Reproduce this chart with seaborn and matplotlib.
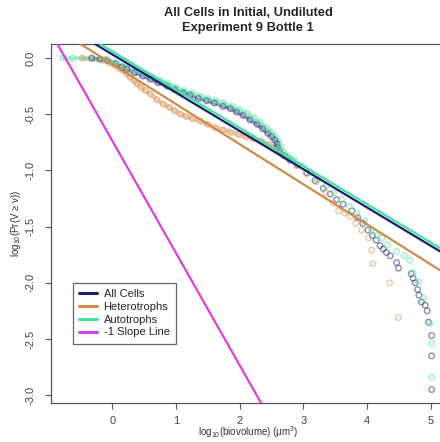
import numpy as np
import pandas as pd
import matplotlib
matplotlib.use("Agg")
import matplotlib.pyplot as plt
import seaborn as sns
from matplotlib.lines import Line2D

# --- data (log10 biovolume, log10 Pr(V >= v)) ---
all_x = [-0.32, -0.19, -0.08, 0.05, 0.15, 0.23, 0.35, 0.48, 0.60, 0.72, 0.86, 0.98,
         1.11, 1.22, 1.35, 1.48, 1.60, 1.74, 1.85, 1.95, 2.05, 2.16, 2.27, 2.36,
         2.44, 2.50, 2.55, 2.58, 2.59, 2.62, 2.70, 2.79, 2.90, 3.05, 3.18, 3.31,
         3.42, 3.52, 3.62, 3.76, 3.85, 3.93, 4.01, 4.08, 4.14, 4.20, 4.25, 4.30,
         4.36, 4.46, 4.49, 4.69, 4.72, 4.75, 4.79, 4.81, 4.85, 4.91, 4.94, 4.96,
         5.01, 5.01, 5.01]
all_y = [0.00, -0.01, -0.02, -0.05, -0.08, -0.10, -0.13, -0.16, -0.19, -0.22, -0.25, -0.28,
         -0.31, -0.33, -0.36, -0.38, -0.40, -0.43, -0.45, -0.48, -0.51, -0.55, -0.59, -0.63,
         -0.67, -0.70, -0.73, -0.76, -0.79, -0.83, -0.87, -0.91, -0.95, -1.02, -1.09, -1.16,
         -1.21, -1.26, -1.30, -1.36, -1.42, -1.47, -1.53, -1.58, -1.62, -1.67, -1.70, -1.73,
         -1.76, -1.82, -1.87, -1.92, -1.96, -2.00, -2.06, -2.11, -2.17, -2.20, -2.25, -2.35,
         -2.47, -2.65, -2.95]

het_x = [-0.47, -0.14, -0.05, 0.02, 0.10, 0.17, 0.23, 0.28, 0.34, 0.39, 0.45, 0.52,
         0.60, 0.70, 0.80, 0.90, 0.98, 1.07, 1.16, 1.26, 1.38, 1.50, 1.62, 1.74,
         1.86, 1.98, 2.10, 2.22, 2.34, 2.46, 2.60, 2.75, 2.90, 3.05, 3.20, 3.35,
         3.47, 3.55, 3.65, 3.73, 3.82, 3.91, 4.02, 4.07, 4.09, 4.35, 4.49]
het_y = [0.00, -0.02, -0.04, -0.06, -0.09, -0.11, -0.14, -0.17, -0.20, -0.23, -0.26, -0.29,
         -0.32, -0.37, -0.41, -0.44, -0.47, -0.50, -0.52, -0.54, -0.56, -0.59, -0.62, -0.64,
         -0.66, -0.68, -0.70, -0.72, -0.74, -0.77, -0.82, -0.89, -0.96, -1.03, -1.10, -1.20,
         -1.29, -1.36, -1.38, -1.41, -1.47, -1.53, -1.60, -1.71, -1.83, -2.00, -2.31]

aut_x = [-0.77, -0.62, -0.10, 0.05, 0.20, 0.35, 0.50, 0.62, 0.75, 0.88, 1.00, 1.12,
         1.25, 1.38, 1.50, 1.62, 1.75, 1.88, 2.00, 2.11, 2.22, 2.32, 2.42, 2.50,
         2.56, 2.61, 2.64, 2.68, 2.76, 2.86, 2.98, 3.10, 3.22, 3.35, 3.47, 3.60,
         3.72, 3.84, 3.96, 4.06, 4.15, 4.23, 4.32, 4.46, 4.58, 4.67, 4.72, 4.80,
         4.88, 4.98, 5.01, 5.01]
aut_y = [0.00, 0.00, -0.01, -0.04, -0.07, -0.11, -0.14, -0.17, -0.20, -0.23, -0.26, -0.29,
         -0.31, -0.34, -0.36, -0.38, -0.40, -0.43, -0.46, -0.49, -0.53, -0.57, -0.62, -0.66,
         -0.70, -0.74, -0.79, -0.83, -0.87, -0.91, -0.96, -1.02, -1.08, -1.14, -1.20, -1.26,
         -1.32, -1.38, -1.45, -1.52, -1.58, -1.60, -1.66, -1.72, -1.76, -1.80, -1.91, -1.99,
         -2.14, -2.36, -2.54, -2.84]

# fitted power-law lines
fit_labels = ["All Cells", "Heterotrophs", "Autotrophs", "-1 Slope Line"]
fit_intercepts = [0.033, -0.053, 0.060, -0.735]
fit_slopes = [-0.341, -0.357, -0.3405, -1.0]

line_colors = ["#1c1f6e", "#d08a4a", "#44e39d", "#e03ee0"]
point_colors = ["#2a2f80", "#dc9860", "#5fe8a8"]
band_widths = [2.6, 3.4, 2.6]

sns.set_style("ticks")
plt.rcParams['font.family'] = ['Liberation Sans', 'DejaVu Sans']
plt.rcParams['mathtext.fontset'] = 'custom'
plt.rcParams['mathtext.rm'] = 'Liberation Sans'
plt.rcParams['mathtext.it'] = 'Liberation Sans:italic'
plt.rcParams['axes.unicode_minus'] = False

fig = plt.figure(figsize=(4.4, 4.42), dpi=100)
ax = fig.add_axes([51 / 440, 39 / 442, (445 - 51) / 440, (403 - 44) / 442])

series = [(all_x, all_y, point_colors[0], 0.55, band_widths[0]),
          (het_x, het_y, point_colors[1], 0.55, band_widths[1]),
          (aut_x, aut_y, point_colors[2], 0.6, band_widths[2])]
for xs, ys, c, a, bw in series:
    df = pd.DataFrame({"x": xs, "y": ys})
    # dense part of the curve reads as a solid band in the reference
    dense = df[df["x"] < 2.9]
    ax.plot(dense["x"], dense["y"], color=c, lw=bw, alpha=a * 0.9,
            solid_capstyle="round", zorder=1)
    sns.scatterplot(data=df, x="x", y="y", ax=ax, marker="o", s=16,
                    facecolor="none", edgecolor=c, linewidth=1.0, alpha=a, zorder=2)

for b, m, c in zip(fit_intercepts, fit_slopes, line_colors):
    ax.axline((0, b), slope=m, color=c, lw=1.6, zorder=3)

ax.set_xlim(-0.96, (445 - 112) / 63.8)
ax.set_ylim(-3.07, 0.125)
ax.set_xticks([0, 1, 2, 3, 4, 5])
ax.set_yticks([0.0, -0.5, -1.0, -1.5, -2.0, -2.5, -3.0])
ax.set_yticklabels(["0.0", "-0.5", "-1.0", "-1.5", "-2.0", "-2.5", "-3.0"])
ax.tick_params(axis="both", direction="out", length=4, width=0.8, color="#555555",
               labelsize=8, labelcolor="#444444")
ax.tick_params(axis="x", pad=5)
ax.tick_params(axis="y", pad=7)
for lbl in ax.get_yticklabels():
    lbl.set_rotation(90)
    lbl.set_horizontalalignment("right")
    lbl.set_verticalalignment("center")
for s in ax.spines.values():
    s.set_color("#555555")
    s.set_linewidth(0.9)

ax.set_xlabel("log$_{10}$(biovolume) (μm$^{3}$)", fontsize=7, color="#333333", labelpad=-1)
ax.set_ylabel("log$_{10}$(Pr(V ≥ v))", fontsize=7, color="#333333", labelpad=2)

fig.text(248 / 440, 1 - 13 / 442, "All Cells in Initial, Undiluted", ha="center",
         va="center", fontsize=9.3, fontweight="bold")
fig.text(248 / 440, 1 - 28 / 442, "Experiment 9 Bottle 1", ha="center",
         va="center", fontsize=9.3, fontweight="bold")

handles = [Line2D([0], [0], color=c, lw=2.2) for c in line_colors]
leg = ax.legend(handles, fit_labels, loc="upper left",
                bbox_to_anchor=((73 - 51) / 394, (403 - 283) / 359),
                borderaxespad=0, prop={"size": 8}, frameon=True, fancybox=False,
                framealpha=1, edgecolor="#666666", handlelength=1.6,
                handletextpad=0.6, labelspacing=0.25, borderpad=0.55)
leg.get_frame().set_linewidth(0.9)

fig.savefig("out.png", dpi=100)
